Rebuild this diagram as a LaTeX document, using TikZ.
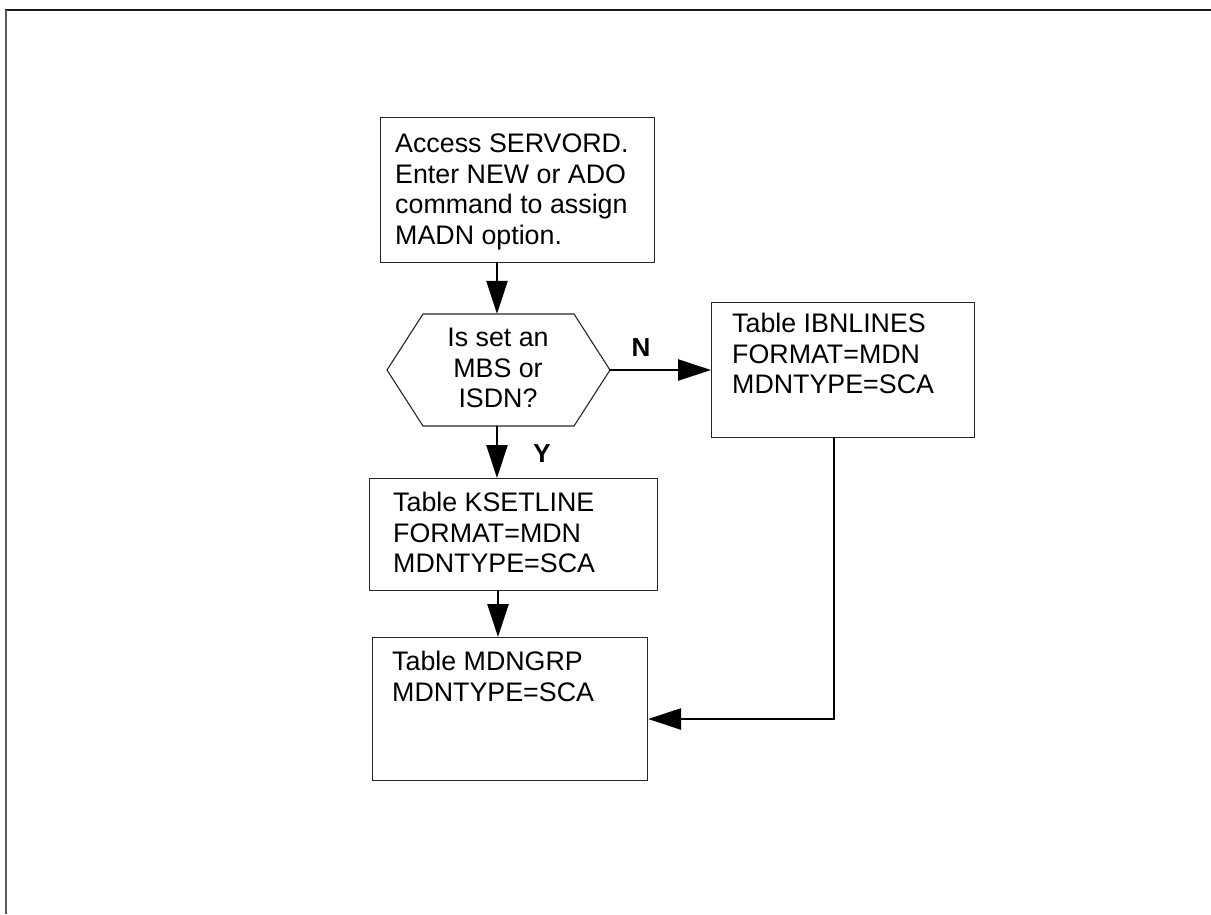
\documentclass[tikz,border=0pt]{standalone}
\usepackage{fontspec}
\setmainfont{Liberation Sans}
\usetikzlibrary{arrows.meta}
\begin{document}
\begin{tikzpicture}[x=1pt,y=-1pt,
  box/.style={draw=black!85, line width=1.1pt, rectangle, inner sep=0pt, anchor=north west},
  txt/.style={inner sep=0pt, align=left, font=\fontsize{26.8}{30.5}\selectfont, anchor=north west},
  ctxt/.style={inner sep=0pt, align=center, font=\fontsize{26.8}{30.5}\selectfont, anchor=north},
  tag/.style={inner sep=0pt, font=\bfseries\fontsize{26}{30}\selectfont, anchor=base},
  flow/.style={line width=2.6pt, -{Triangle[length=33pt,width=21pt]}},
]
\useasboundingbox (0,0) rectangle (1211,914);

% page frame (top and left edges only)
\draw[line width=2pt, black!90] (5,9.5) -- (1211,9.5);
\draw[line width=2pt, black!65] (6,9.5) -- (6,914);

% start box
\node[box, minimum width=274pt, minimum height=145pt] (access) at (380,117) {};
\node[txt] (accesstext) at (395,134) {Access SERVORD.\\Enter NEW or ADO\\command to assign\\MADN option.};

% decision hexagon
\node[inner sep=0pt, minimum width=223pt, minimum height=112pt] (hex) at (497,370) {};
\draw[line width=1.1pt, black!85] (387,370) -- (423,314) -- (574,314) -- (610,370) -- (574,426) -- (423,426) -- cycle;
\node[ctxt] (hextext) at (498,328) {Is set an\\MBS or\\ISDN?};

% table boxes
\node[box, minimum width=263pt, minimum height=135pt] (ibn) at (711,302) {};
\node[txt] (ibntext) at (732,313) {Table IBNLINES\\FORMAT=MDN\\MDNTYPE=SCA};

\node[box, minimum width=288pt, minimum height=112pt] (kset) at (369,478) {};
\node[txt] (ksettext) at (393,492) {Table KSETLINE\\FORMAT=MDN\\MDNTYPE=SCA};

\node[box, minimum width=275pt, minimum height=143pt] (mdngrp) at (372,637) {};
\node[txt] (mdngrptext) at (392,651) {Table MDNGRP\\MDNTYPE=SCA};

% connectors
\coordinate (accbot) at (497,262);
\draw[flow] (accbot) -- (hex.north);
\draw[flow] (hex.east) -- (hex.east -| ibn.west);
\draw[flow] (hex.south) -- (hex.south |- kset.north);
\coordinate (ksetbot) at (498,590);
\draw[flow] (ksetbot) -- (ksetbot |- mdngrp.north);
\coordinate (ibnbot) at (834,437);
\coordinate (bend) at (834,719);
\draw[flow] (ibnbot) -- (bend) -- (bend -| mdngrp.east);

% branch labels
\node[tag] (nlabel) at (641,356) {N};
\node[tag] (ylabel) at (542,462) {Y};
\end{tikzpicture}
\end{document}
